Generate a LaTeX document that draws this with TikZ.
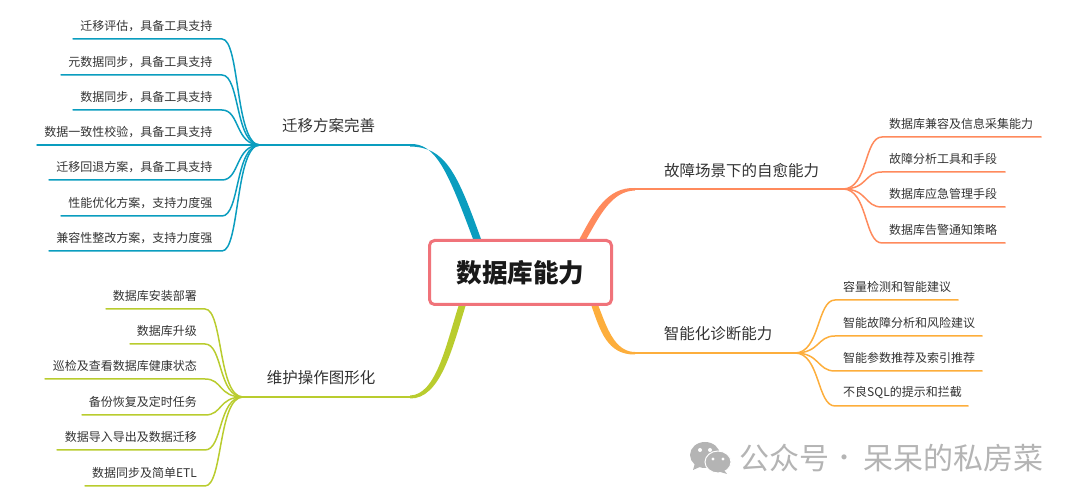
\documentclass[tikz,border=0pt]{standalone}
\usepackage{fontspec}
\setmainfont{Noto Sans CJK SC}
\usetikzlibrary{backgrounds,shapes.geometric}
\definecolor{migblue}{HTML}{0A9DBF}
\definecolor{failorange}{HTML}{FF8A5C}
\definecolor{diagyellow}{HTML}{FDAE3C}
\definecolor{opsgreen}{HTML}{B9CC2E}
\definecolor{corered}{HTML}{F0737A}
\definecolor{markgrey}{HTML}{B4B4B4}
\tikzset{every node/.style={inner sep=0pt, text=black!80}}
\tikzset{leaf/.style={font=\fontsize{12}{14}\selectfont}, branch/.style={font=\fontsize{15.5}{18}\selectfont},
  leafline/.style={line width=1.5pt, line cap=round}, midline/.style={line width=2.2pt},
  marktext/.style={font=\fontsize{30}{34}\selectfont, text=markgrey}}

\begin{document}
\begin{tikzpicture}[x=1pt,y=-1pt]
  \useasboundingbox (0,0) rectangle (1080,502);
  \node[draw=corered, line width=3pt, rounded corners=5pt, fill=white, minimum width=182pt, minimum height=64pt,
    font=\fontsize{25.6}{30}\selectfont\bfseries, text=black!90] (core) at (520.5,272.5) {数据库能力};
  \coordinate (migroot) at ([xshift=49pt]core.north west);
  \coordinate (failroot) at ([xshift=155pt]core.north west);
  \coordinate (opsroot) at ([xshift=34pt]core.south west);
  \coordinate (diagroot) at ([xshift=167pt]core.south west);
  \coordinate (mighub) at (260,145);
  \coordinate (migknee) at (410,145);
  \coordinate (opshub) at (243,397);
  \coordinate (opsknee) at (410,397);
  \coordinate (failhub) at (843,189);
  \coordinate (failknee) at (635,189);
  \coordinate (diaghub) at (795,353);
  \coordinate (diagknee) at (635,353);
  \begin{scope}[on background layer]
   \fill[migblue] ([yshift=1pt]migknee) .. controls (436,143) and (448,172) .. ([xshift=-4pt]migroot)
    -- ([xshift=4pt]migroot) .. controls (457,172) and (445,147) .. ([yshift=-1.5pt]migknee) -- cycle;
   \fill[failorange] ([yshift=1pt]failknee) .. controls (607,187) and (594,212) .. ([xshift=-3.5pt]failroot)
    -- ([xshift=3.5pt]failroot) .. controls (600,215) and (612,191) .. ([yshift=-1.5pt]failknee) -- cycle;
   \fill[diagyellow] ([yshift=-1.5pt]diagknee) .. controls (607,355) and (600,330) .. ([xshift=-3.5pt]diagroot)
    -- ([xshift=3.5pt]diagroot) .. controls (606,325) and (614,352) .. ([yshift=1pt]diagknee) -- cycle;
   \fill[opsgreen] ([yshift=1.5pt]opsknee) .. controls (436,395) and (446,345) .. ([xshift=-3.5pt]opsroot)
    -- ([xshift=3.5pt]opsroot) .. controls (452,350) and (440,399) .. ([yshift=-1.5pt]opsknee) -- cycle;
  \end{scope}
  \draw[migblue,midline] (mighub) -- (migknee);
  \draw[opsgreen,midline] (opshub) -- (opsknee);
  \draw[failorange,midline] (failhub) -- (failknee);
  \draw[diagyellow,midline] (diaghub) -- (diagknee);
  \node[branch] (migtitle) at (328.5,125.7) {迁移方案完善};
  \node[branch] (opstitle) at (321,377.7) {维护操作图形化};
  \node[branch] (failtitle) at (741.5,170.7) {故障场景下的自愈能力};
  \node[branch] (diagtitle) at (718,333.7) {智能化诊断能力};
  % left side
  \foreach \n/\y/\xe/\txt in {1/39/73/迁移评估，具备工具支持, 2/75/61/元数据同步，具备工具支持, 3/110/73/数据同步，具备工具支持,
    4/145/37/数据一致性校验，具备工具支持, 5/180/49/迁移回退方案，具备工具支持, 6/216/61/性能优化方案，支持力度强, 7/251/49/兼容性整改方案，支持力度强}{
   \node[leaf,anchor=east] (mig\n) at (212.5,\y-13.4) {\txt};
   \coordinate (mig\n turn) at (222,\y);
   \coordinate (mig\n end) at (\xe,\y);
   \draw[migblue,leafline] (mighub) .. controls +(-25,0) and (240,\y) .. (mig\n turn) -- (mig\n end);
  }
  \foreach \n/\y/\xe/\txt in {1/309/106/数据库安装部署, 2/344/130/数据库升级, 3/379/45/巡检及查看数据库健康状态,
    4/415/82/备份恢复及定时任务, 5/450/57/数据导入导出及数据迁移, 6/486/85/数据同步及简单ETL}{
   \node[leaf,anchor=east] (ops\n) at (197,\y-13.4) {\txt};
   \coordinate (ops\n turn) at (205,\y);
   \coordinate (ops\n end) at (\xe,\y);
   \draw[opsgreen,leafline] (opshub) .. controls +(-25,0) and (223,\y) .. (ops\n turn) -- (ops\n end);
  }
  % right side
  \foreach \n/\y/\xe/\txt in {1/137/1041/数据库兼容及信息采集能力, 2/172/1005/故障分析工具和手段, 3/207/1005/数据库应急管理手段, 4/243/1005/数据库告警通知策略}{
   \node[leaf,anchor=west] (fail\n) at (889,\y-13.4) {\txt};
   \coordinate (fail\n turn) at (882,\y);
   \coordinate (fail\n end) at (\xe,\y);
   \draw[failorange,leafline] (failhub) .. controls +(25,0) and (864,\y) .. (fail\n turn) -- (fail\n end);
  }
  \foreach \n/\y/\xe/\txt in {1/300/958/容量检测和智能建议, 2/336/982/智能故障分析和风险建议, 3/371/982/智能参数推荐及索引推荐, 4/406/968/不良SQL的提示和拦截}{
   \node[leaf,anchor=west] (diag\n) at (843,\y-13.4) {\txt};
   \coordinate (diag\n turn) at (835,\y);
   \coordinate (diag\n end) at (\xe,\y);
   \draw[diagyellow,leafline] (diaghub) .. controls +(25,0) and (817,\y) .. (diag\n turn) -- (diag\n end);
  }
  % watermark
  \fill[markgrey] (705,455) ellipse[x radius=15, y radius=13];
  \fill[markgrey] (695,463) -- (693,470) -- (702,466) -- cycle;
  \draw[white,line width=1pt,fill=markgrey] (718,462) ellipse[x radius=13, y radius=11];
  \fill[markgrey] (724,470) -- (727,474) -- (717,471) -- cycle;
  \fill[white] (700,450) circle(2) (710,450) circle(2) (713,459) circle(1.7) (723,459) circle(1.7);
  \node[marktext,anchor=west] (marka) at (739.5,458) {公众号};
  \node[marktext,font=\fontsize{24}{28}\selectfont] (markb) at (844,461) {·};
  \node[marktext,anchor=west] (markc) at (863,458) {呆呆的私房菜};
\end{tikzpicture}
\end{document}
